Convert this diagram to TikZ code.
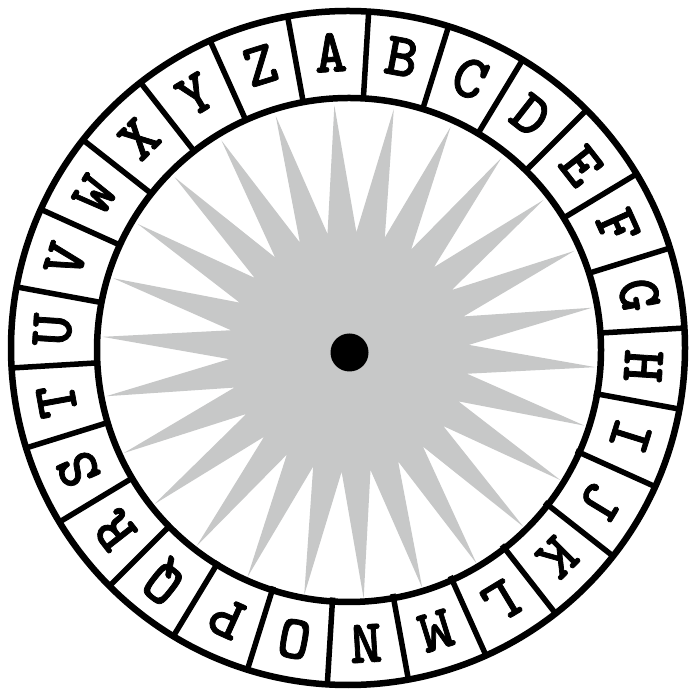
\documentclass[tikz,border=0pt]{standalone}
\usepackage{fontspec}
\newfontfamily\typew{lmmonolt10-bold.otf}[FakeBold=1.2]
\definecolor{starfill}{RGB}{199,200,200}
\tikzset{
  ringline/.style={line width=6.5pt, draw=black},
  sepline/.style={line width=5.5pt, draw=black},
  letter/.style={inner sep=0pt, font=\fontsize{62}{62}\selectfont\typew, text=black},
  hubdot/.style={circle, fill=black, inner sep=0pt, minimum size=38pt},
}
\begin{document}
\begin{tikzpicture}[x=1pt,y=1pt]
\useasboundingbox (0,0) rectangle (689,693);
\fill[white] (0,0) rectangle (689,693);
% star
\fill[starfill] ({349+247*cos(93.4)},{341+247*sin(93.4)})
  \foreach \k in {1,...,26} {
    -- ({349+120*cos(93.4+(\k-0.5)*13.8462)},{341+120*sin(93.4+(\k-0.5)*13.8462)})
    -- ({349+247*cos(93.4+\k*13.8462)},{341+247*sin(93.4+\k*13.8462)})
  } -- cycle;
% rings
\draw[ringline] (348,345) circle (337);
\draw[ringline] (349,343) circle (252);
% separators
\foreach \k in {0,...,25} {
  \draw[sepline] ({348+250*cos(100.323+\k*13.8462)},{345+250*sin(100.323+\k*13.8462)})
    -- ({348+338*cos(100.323+\k*13.8462)},{345+338*sin(100.323+\k*13.8462)});
}
% letters
\foreach \L [count=\i from 0] in {A,B,C,D,E,F,G,H,I,J,K,L,M,N,O,P,Q,R,S,T,U,V,W,X,Y,Z} {
  \node[letter, rotate={3.4-\i*13.8462}] (L\i) at ({348+296*cos(93.4-\i*13.8462)},{345+296*sin(93.4-\i*13.8462)}) {\L};
}
% hub
\node[hubdot] (hub) at (349.5,340.5) {};
\end{tikzpicture}
\end{document}
